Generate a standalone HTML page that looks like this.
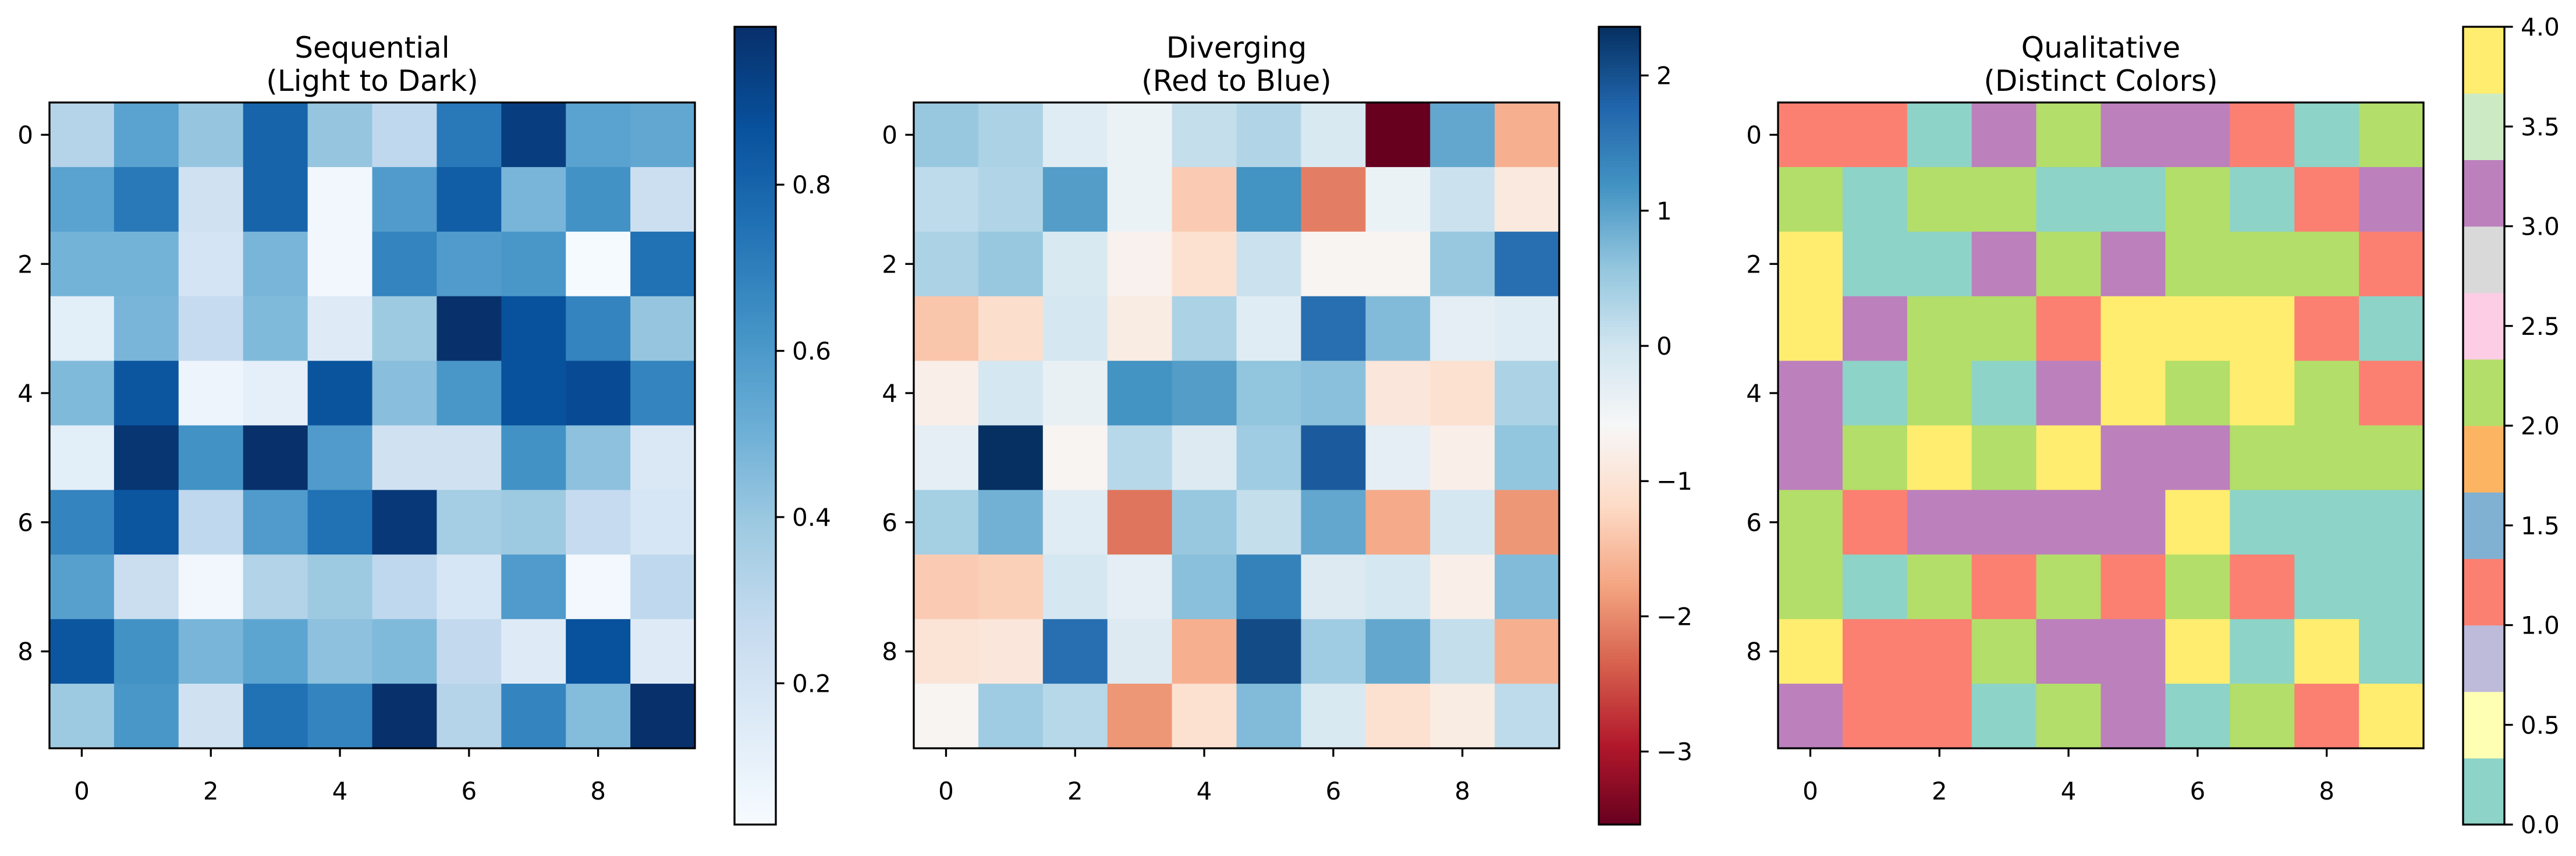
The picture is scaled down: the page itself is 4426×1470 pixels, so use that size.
<!DOCTYPE html>
<html><head><meta charset="utf-8"><style>
html,body{margin:0;padding:0;background:#fff;}
svg{display:block;font-family:"DejaVu Sans","Liberation Sans",sans-serif;}
</style></head><body>
<svg id="fig" xmlns="http://www.w3.org/2000/svg" width="4426" height="1470" viewBox="0 0 4426 1470"></svg>
<script>
// ---- data ----
const seqValues = [
[.32,.56,.41,.80,.41,.29,.72,.94,.56,.54],
[.56,.72,.22,.80,.06,.59,.82,.48,.63,.24],
[.49,.49,.20,.48,.06,.68,.59,.61,.04,.75],
[.13,.48,.27,.46,.15,.39,.99,.87,.68,.41],
[.46,.85,.08,.12,.86,.44,.61,.87,.89,.68],
[.13,.97,.63,.99,.59,.22,.22,.63,.43,.17],
[.68,.85,.29,.59,.75,.96,.37,.39,.27,.19],
[.57,.25,.06,.33,.39,.29,.19,.59,.05,.29],
[.85,.63,.48,.55,.43,.46,.28,.15,.87,.15],
[.39,.61,.22,.75,.68,.99,.32,.68,.45,.99]];
const divValues = [
[0.53,0.35,-0.24,-0.41,0.12,0.30,-0.12,-3.54,0.94,-1.65],
[0.18,0.30,1.06,-0.41,-1.36,1.18,-2.10,-0.41,0.06,-0.88],
[0.35,0.53,-0.12,-0.71,-1.06,0.06,-0.65,-0.65,0.53,1.65],
[-1.42,-1.12,-0.06,-0.83,0.35,-0.24,1.65,0.71,-0.30,-0.24],
[-0.77,-0.06,-0.35,1.18,1.06,0.59,0.65,-0.94,-1.06,0.35],
[-0.30,2.36,-0.65,0.24,-0.18,0.47,1.89,-0.30,-0.77,0.59],
[0.41,0.83,-0.24,-2.18,0.53,0.12,0.94,-1.71,-0.06,-1.89],
[-1.36,-1.30,-0.06,-0.30,0.65,1.42,-0.18,-0.06,-0.77,0.71],
[-1.00,-0.94,1.65,-0.18,-1.65,2.07,0.47,0.94,0.12,-1.65],
[-0.65,0.47,0.24,-1.89,-1.06,0.71,-0.12,-1.06,-0.83,0.18]];
const qualValues = [
[1,1,0,3,2,3,3,1,0,2],
[2,0,2,2,0,0,2,0,1,3],
[4,0,0,3,2,3,2,2,2,1],
[4,3,2,2,1,4,4,4,1,0],
[3,0,2,0,3,4,2,4,2,1],
[3,2,4,2,4,3,3,2,2,2],
[2,1,3,3,3,3,4,0,0,0],
[2,0,2,1,2,1,2,1,0,0],
[4,1,1,2,3,3,4,0,4,0],
[3,1,1,0,2,3,0,2,1,4]];
const axisTicks = [0,2,4,6,8];
const seqCbTicks = [0.2,0.4,0.6,0.8];
const divCbTicks = [-3,-2,-1,0,1,2];
const qualCbTicks = [0,0.5,1,1.5,2,2.5,3,3.5,4];
const seqRange = [0.03,0.99];
const divRange = [-3.54,2.36];
const qualRange = [0,4];
const titles = [["Sequential","(Light to Dark)"],["Diverging","(Red to Blue)"],["Qualitative","(Distinct Colors)"]];

// ---- colormaps ----
const BLUES=["#f7fbff","#deebf7","#c6dbef","#9ecae1","#6baed6","#4292c6","#2171b5","#08519c","#08306b"];
const RDBU=["#67001f","#b2182b","#d6604d","#f4a582","#fddbc7","#f7f7f7","#d1e5f0","#92c5de","#4393c3","#2166ac","#053061"];
const SET3=["#8dd3c7","#ffffb3","#bebada","#fb8072","#80b1d3","#fdb462","#b3de69","#fccde5","#d9d9d9","#bc80bd","#ccebc5","#ffed6f"];
function hex(h){return [1,3,5].map(i=>parseInt(h.substr(i,2),16));}
function interp(list,t){t=Math.max(0,Math.min(1,t));const n=list.length-1;const f=t*n;const i=Math.min(n-1,Math.floor(f));const r=f-i;const a=hex(list[i]),b=hex(list[i+1]);return "rgb("+a.map((v,k)=>Math.round(v+(b[k]-v)*r)).join(",")+")";}
const cmaps={
 blues:t=>interp(BLUES,t),
 rdbu:t=>interp(RDBU,t),
 set3:t=>SET3[Math.min(11,Math.floor(Math.max(0,t)*12))]
};

const NS="http://www.w3.org/2000/svg";
const svg=document.getElementById('fig');
function el(tag,attrs,parent){const e=document.createElementNS(NS,tag);for(const k in attrs)e.setAttribute(k,attrs[k]);(parent||svg).appendChild(e);return e;}

const HM_SIZE=1109, HM_TOP=176, CB_TOP=46, CB_BOT=1416, CB_W=71, CB_OFF=1177;
const panelLefts=[85,1570,3055];
const panels=[
 {data:seqValues,range:seqRange,cmap:'blues',cbTicks:seqCbTicks,fmt:v=>v.toFixed(1),name:'sequential'},
 {data:divValues,range:divRange,cmap:'rdbu',cbTicks:divCbTicks,fmt:v=>(v<0?"\u2212"+Math.abs(v):String(v)),name:'diverging'},
 {data:qualValues,range:qualRange,cmap:'set3',cbTicks:qualCbTicks,fmt:v=>v.toFixed(1),name:'qualitative',discrete:true}
];

panels.forEach((p,pi)=>{
  const L=panelLefts[pi];
  const g=el('g',{});
  
  
  const n=p.data.length, cell=HM_SIZE/n;
  const xs=c=>L+(c+0.5)*cell; // axis function: column index -> center x
  const ys=r=>HM_TOP+(r+0.5)*cell;
  const norm=v=>(v-p.range[0])/(p.range[1]-p.range[0]);
  // title
  const t=el('text',{x:L+HM_SIZE/2,y:99,'text-anchor':'middle','font-size':50,fill:'#000'},g);
  
  
  const ts1=el('tspan',{x:L+HM_SIZE/2,y:99},t);ts1.textContent=titles[pi][0];
  const ts2=el('tspan',{x:L+HM_SIZE/2,y:156},t);ts2.textContent=titles[pi][1];
  // cells
  for(let r=0;r<n;r++)for(let c=0;c<p.data[r].length;c++){
    const rc=el('rect',{x:(xs(c)-cell/2).toFixed(2),y:(ys(r)-cell/2).toFixed(2),width:(cell+0.6).toFixed(2),height:(cell+0.6).toFixed(2),fill:cmaps[p.cmap](norm(p.data[r][c]))},g);
    
    
  }
  const fr=el('rect',{x:L,y:HM_TOP,width:HM_SIZE,height:HM_SIZE,fill:'none',stroke:'#000','stroke-width':3.3},g);
  
  
  // ticks
  axisTicks.forEach(k=>{
    el('line',{x1:xs(k),x2:xs(k),y1:HM_TOP+HM_SIZE,y2:HM_TOP+HM_SIZE+14.6,stroke:'#000','stroke-width':3.3},g);
    const xt=el('text',{x:xs(k),y:1373,'text-anchor':'middle','font-size':42},g);
    
    
    xt.textContent=k;
    el('line',{x1:L-14.6,x2:L,y1:ys(k),y2:ys(k),stroke:'#000','stroke-width':3.3},g);
    const yt=el('text',{x:L-28,y:ys(k)+15,'text-anchor':'end','font-size':42},g);
    
    
    yt.textContent=k;
  });
  // colorbar
  const cx=L+CB_OFF, H=CB_BOT-CB_TOP;
  const cy=v=>CB_BOT-norm(v)*H; // axis function for colorbar
  const cb=el('g',{},g);
  
  
  const steps=p.discrete?12:274;
  for(let i=0;i<steps;i++){
    const t0=i/steps,t1=(i+1)/steps;
    el('rect',{x:cx,y:(CB_BOT-t1*H).toFixed(2),width:CB_W,height:(H/steps+0.6).toFixed(2),fill:cmaps[p.cmap]((t0+t1)/2)},cb);
  }
  el('rect',{x:cx,y:CB_TOP,width:CB_W,height:H,fill:'none',stroke:'#000','stroke-width':3.3},cb);
  p.cbTicks.forEach(v=>{
    el('line',{x1:cx+CB_W,x2:cx+CB_W+14.6,y1:cy(v),y2:cy(v),stroke:'#000','stroke-width':3.3},cb);
    const lt=el('text',{x:cx+CB_W+28,y:cy(v)+15,'font-size':42},cb);
    
    
    lt.textContent=p.fmt(v);
  });
});
</script>
</body></html>
